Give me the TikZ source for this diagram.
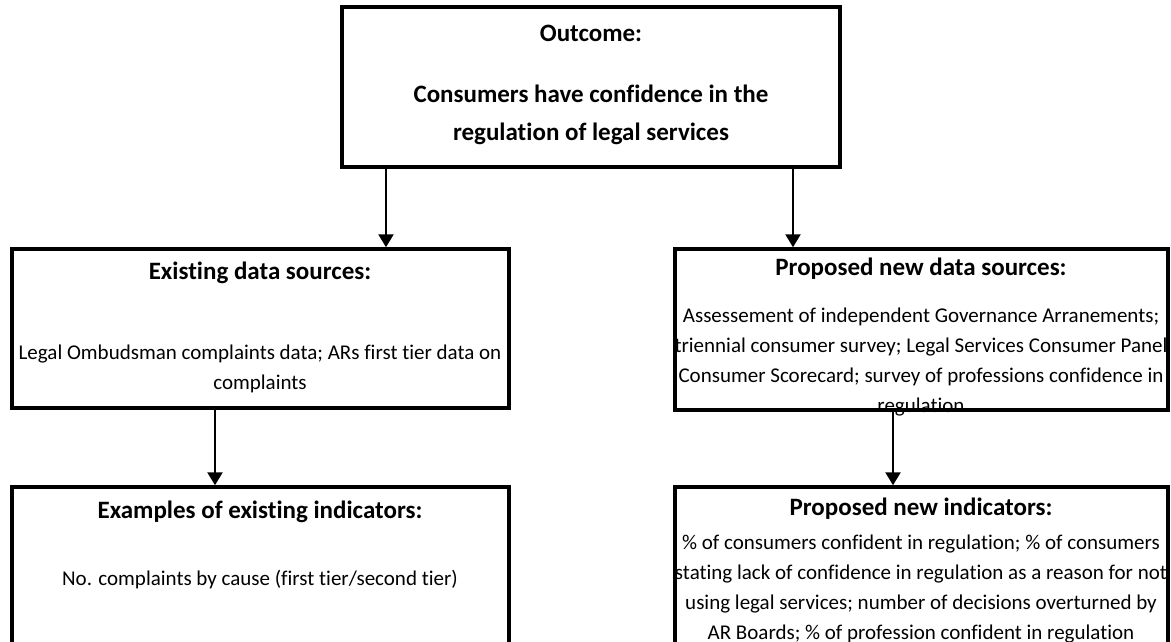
\documentclass[tikz,border=0pt]{standalone}
\usepackage{fontspec}
\setmainfont{Carlito}[Ligatures=NoCommon]
\usetikzlibrary{arrows.meta}
\begin{document}
\begin{tikzpicture}[x=1pt,y=-1pt,
  box/.style={draw, line width=3.5pt, inner sep=0pt},
  ttl/.style={font=\fontsize{25}{30}\selectfont\bfseries, align=center, inner sep=0pt},
  big/.style={font=\fontsize{25}{38}\selectfont\bfseries, align=center, inner sep=0pt},
  txt/.style={font=\fontsize{21}{30}\selectfont, align=center, inner sep=0pt},
  arr/.style={line width=2.5pt, -{Triangle[width=15pt,length=13pt]}}]
\useasboundingbox (0,0) rectangle (1171,642);
\clip (0,0) rectangle (1171,642);
% texts
\node[ttl] (t0) at (591,33) {Outcome:};
\node[big] (t1) at (591,115) {Consumers have confidence in the\\regulation of legal services};
\node[ttl] (l1) at (260,273) {Existing data sources:};
\node[txt] (l2) at (260,369) {Legal Ombudsman complaints data; ARs first tier data on\\complaints};
\node[ttl] (r1) at (921,269) {Proposed new data sources:};
\node[txt] (r2) at (921,362) {Assessement of independent Governance Arranements;\\triennial consumer survey; Legal Services Consumer Panel\\Consumer Scorecard; survey of professions confidence in\\regulation};
\node[ttl] (l3) at (260,512) {Examples of existing indicators:};
\node[txt] (l4) at (260,580) {No. complaints by cause (first tier/second tier)};
\node[ttl] (r3) at (921,509) {Proposed new indicators:};
\node[txt] (r4) at (921,589) {\% of consumers confident in regulation; \% of consumers\\stating lack of confidence in regulation as a reason for not\\using legal services; number of decisions overturned by\\AR Boards; \% of profession confident in regulation};
% boxes
\node[box, minimum width=498pt, minimum height=160pt] (top) at (591,87) {};
\node[box, minimum width=497pt, minimum height=159pt] (midL) at (260.5,328.5) {};
\node[box, minimum width=493pt, minimum height=161pt] (midR) at (921.5,329.5) {};
\node[box, minimum width=497pt, minimum height=220pt] (botL) at (260.5,597) {};
\node[box, minimum width=493pt, minimum height=220pt] (botR) at (921.5,597) {};
% arrows
\coordinate (a1) at (386,0);
\coordinate (a2) at (793,0);
\coordinate (a3) at (215,0);
\coordinate (a4) at (893,0);
\draw[arr] (a1 |- top.south) -- (a1 |- midL.north);
\draw[arr] (a2 |- top.south) -- (a2 |- midR.north);
\draw[arr] (a3 |- midL.south) -- (a3 |- botL.north);
\draw[arr] (a4 |- midR.south) -- (a4 |- botR.north);
\end{tikzpicture}
\end{document}
